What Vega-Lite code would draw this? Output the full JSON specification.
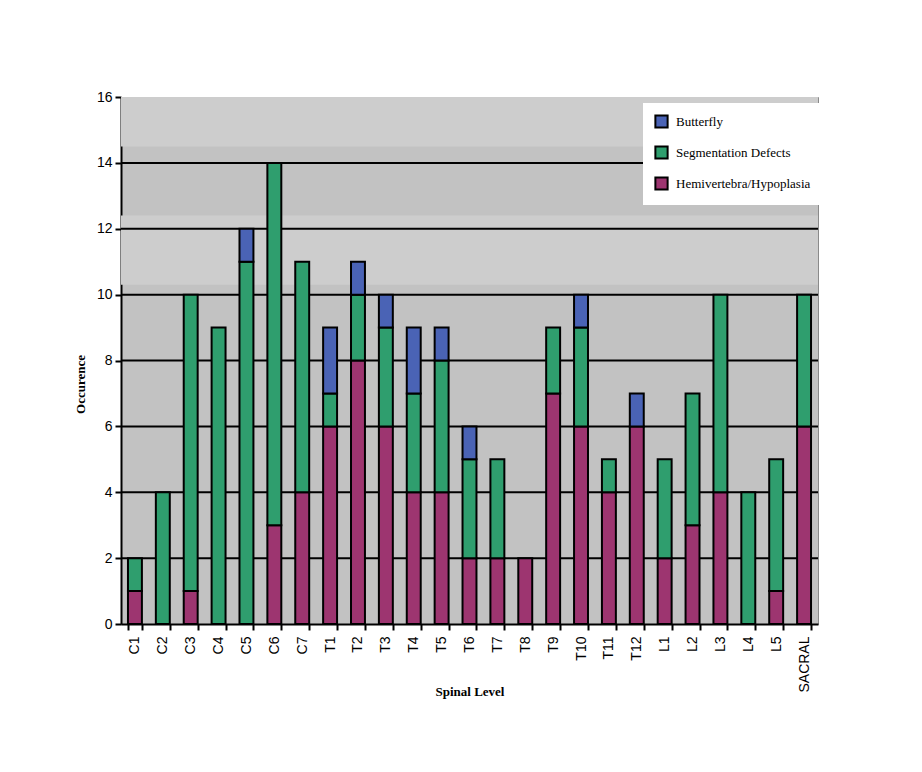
{
  "$schema": "https://vega.github.io/schema/vega-lite/v6.json",
  "width": 697,
  "height": 527,
  "autosize": {"type": "none"},
  "padding": {"left": 121, "top": 97, "right": 104, "bottom": 148},
  "background": "white",
  "config": {
    "view": {"fill": "#c2c2c2", "stroke": "#8a8a8a", "strokeWidth": 1},
    "axis": {"labelFont": "Liberation Sans", "labelFontSize": 14, "labelColor": "#000", "titleFont": "Liberation Serif", "titleFontWeight": "bold", "titleFontSize": 13, "titleColor": "#000", "domainColor": "#000", "domainWidth": 2, "tickColor": "#000", "tickWidth": 2, "grid": false}
  },
  "datasets": {
    "bars": [
      {"level": "C1", "type": "Hemivertebra/Hypoplasia", "n": 1},
      {"level": "C1", "type": "Segmentation Defects", "n": 1},
      {"level": "C2", "type": "Segmentation Defects", "n": 4},
      {"level": "C3", "type": "Hemivertebra/Hypoplasia", "n": 1},
      {"level": "C3", "type": "Segmentation Defects", "n": 9},
      {"level": "C4", "type": "Segmentation Defects", "n": 9},
      {"level": "C5", "type": "Segmentation Defects", "n": 11},
      {"level": "C5", "type": "Butterfly", "n": 1},
      {"level": "C6", "type": "Hemivertebra/Hypoplasia", "n": 3},
      {"level": "C6", "type": "Segmentation Defects", "n": 11},
      {"level": "C7", "type": "Hemivertebra/Hypoplasia", "n": 4},
      {"level": "C7", "type": "Segmentation Defects", "n": 7},
      {"level": "T1", "type": "Hemivertebra/Hypoplasia", "n": 6},
      {"level": "T1", "type": "Segmentation Defects", "n": 1},
      {"level": "T1", "type": "Butterfly", "n": 2},
      {"level": "T2", "type": "Hemivertebra/Hypoplasia", "n": 8},
      {"level": "T2", "type": "Segmentation Defects", "n": 2},
      {"level": "T2", "type": "Butterfly", "n": 1},
      {"level": "T3", "type": "Hemivertebra/Hypoplasia", "n": 6},
      {"level": "T3", "type": "Segmentation Defects", "n": 3},
      {"level": "T3", "type": "Butterfly", "n": 1},
      {"level": "T4", "type": "Hemivertebra/Hypoplasia", "n": 4},
      {"level": "T4", "type": "Segmentation Defects", "n": 3},
      {"level": "T4", "type": "Butterfly", "n": 2},
      {"level": "T5", "type": "Hemivertebra/Hypoplasia", "n": 4},
      {"level": "T5", "type": "Segmentation Defects", "n": 4},
      {"level": "T5", "type": "Butterfly", "n": 1},
      {"level": "T6", "type": "Hemivertebra/Hypoplasia", "n": 2},
      {"level": "T6", "type": "Segmentation Defects", "n": 3},
      {"level": "T6", "type": "Butterfly", "n": 1},
      {"level": "T7", "type": "Hemivertebra/Hypoplasia", "n": 2},
      {"level": "T7", "type": "Segmentation Defects", "n": 3},
      {"level": "T8", "type": "Hemivertebra/Hypoplasia", "n": 2},
      {"level": "T9", "type": "Hemivertebra/Hypoplasia", "n": 7},
      {"level": "T9", "type": "Segmentation Defects", "n": 2},
      {"level": "T10", "type": "Hemivertebra/Hypoplasia", "n": 6},
      {"level": "T10", "type": "Segmentation Defects", "n": 3},
      {"level": "T10", "type": "Butterfly", "n": 1},
      {"level": "T11", "type": "Hemivertebra/Hypoplasia", "n": 4},
      {"level": "T11", "type": "Segmentation Defects", "n": 1},
      {"level": "T12", "type": "Hemivertebra/Hypoplasia", "n": 6},
      {"level": "T12", "type": "Butterfly", "n": 1},
      {"level": "L1", "type": "Hemivertebra/Hypoplasia", "n": 2},
      {"level": "L1", "type": "Segmentation Defects", "n": 3},
      {"level": "L2", "type": "Hemivertebra/Hypoplasia", "n": 3},
      {"level": "L2", "type": "Segmentation Defects", "n": 4},
      {"level": "L3", "type": "Hemivertebra/Hypoplasia", "n": 4},
      {"level": "L3", "type": "Segmentation Defects", "n": 6},
      {"level": "L4", "type": "Segmentation Defects", "n": 4},
      {"level": "L5", "type": "Hemivertebra/Hypoplasia", "n": 1},
      {"level": "L5", "type": "Segmentation Defects", "n": 4},
      {"level": "SACRAL", "type": "Hemivertebra/Hypoplasia", "n": 6},
      {"level": "SACRAL", "type": "Segmentation Defects", "n": 4}
    ],
    "bands": [
      {"lo": 10.3, "hi": 12.4},
      {"lo": 14.5, "hi": 16}
    ],
    "grid": [{"g": 2}, {"g": 4}, {"g": 6}, {"g": 8}, {"g": 10}, {"g": 12}, {"g": 14}]
  },
  "layer": [
    {
      "data": {"name": "bands"},
      "mark": {"type": "rect", "fill": "#cdcdcd"},
      "encoding": {
        "y": {"field": "lo", "type": "quantitative", "scale": {"domain": [0, 16]}},
        "y2": {"field": "hi"}
      }
    },
    {
      "data": {"name": "grid"},
      "mark": {"type": "rule", "color": "#000", "strokeWidth": 2},
      "encoding": {
        "y": {"field": "g", "type": "quantitative"}
      }
    },
    {
      "data": {"name": "bars"},
      "transform": [
        {"calculate": "indexof(['Hemivertebra/Hypoplasia','Segmentation Defects','Butterfly'], datum.type)", "as": "ord"}
      ],
      "mark": {"type": "bar", "stroke": "#000", "strokeWidth": 2},
      "encoding": {
        "x": {
          "field": "level", "type": "nominal", "sort": null,
          "scale": {"paddingInner": 0.5, "paddingOuter": 0.25},
          "axis": {"title": "Spinal Level", "labelAngle": -90, "labelPadding": 6, "tickSize": 6, "tickBand": "extent", "titleY": 71, "titleBaseline": "alphabetic"}
        },
        "y": {
          "field": "n", "type": "quantitative", "aggregate": "sum", "stack": "zero",
          "scale": {"domain": [0, 16]},
          "axis": {"title": "Occurence", "values": [0, 2, 4, 6, 8, 10, 12, 14, 16], "tickSize": 6, "labelPadding": 3, "titleX": -41, "titleY": 287, "titleBaseline": "middle", "titleAlign": "center", "titleAngle": -90}
        },
        "order": {"field": "ord", "type": "quantitative"},
        "color": {
          "field": "type", "type": "nominal",
          "scale": {"domain": ["Butterfly", "Segmentation Defects", "Hemivertebra/Hypoplasia"], "range": ["#4a63b5", "#2f9e6e", "#9d3570"]},
          "legend": {
            "title": null, "orient": "none", "legendX": 522, "legendY": 6,
            "fillColor": "white", "padding": 11, "symbolType": "square", "symbolSize": 150,
            "symbolStrokeColor": "#000", "symbolStrokeWidth": 2, "symbolOpacity": 1,
            "labelFont": "Liberation Serif", "labelFontSize": 13, "labelColor": "#000",
            "rowPadding": 10, "labelOffset": 7, "labelLimit": 300
          }
        }
      }
    }
  ]
}
